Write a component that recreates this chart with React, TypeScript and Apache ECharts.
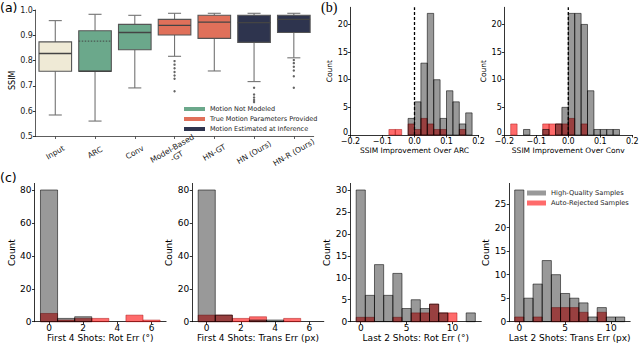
import React, { useEffect, useRef } from "react";
import * as echarts from "echarts";

// ---------- Panel (a): box plot ----------
const boxCategories = ["Input", "ARC", "Conv", "Model-Based\n-GT", "HN-GT", "HN (Ours)", "HN-R (Ours)"];
const boxLow = [0.585, 0.561, 0.692, 0.817, 0.759, 0.717, 0.811];
const boxQ1 = [0.758, 0.758, 0.843, 0.901, 0.888, 0.872, 0.911];
const boxMedian = [0.828, 0.758, 0.911, 0.939, 0.952, 0.95, 0.963];
const boxQ3 = [0.874, 0.918, 0.943, 0.963, 0.979, 0.979, 0.979];
const boxHigh = [0.958, 0.983, 0.979, 0.987, 0.987, 0.987, 0.987];
const boxDotted: (number | null)[] = [null, 0.877, null, null, null, null, null];
const boxGroup = [0, 1, 1, 2, 2, 3, 3];
const groupColors = ["#efeAd6", "#6ba88b", "#e0705a", "#2e344e"];
const boxOutliers: [number, number][] = [
  [3, 0.798], [3, 0.784], [3, 0.77], [3, 0.755], [3, 0.741], [3, 0.728], [3, 0.679],
  [5, 0.693], [5, 0.666], [5, 0.654], [5, 0.644], [5, 0.636],
  [6, 0.802], [6, 0.79], [6, 0.776], [6, 0.761], [6, 0.738], [6, 0.693],
];
const boxTicks = [0.5, 0.6, 0.7, 0.8, 0.9, 1.0];
const legendA = ["Motion Not Modeled", "True Motion Parameters Provided", "Motion Estimated at Inference"];

// ---------- Panel (b): SSIM improvement histograms ----------
const bTicksX = [-0.2, -0.1, 0, 0.1, 0.2];
const bTicksY = [0, 5, 10, 15, 20];
const bYMax = 23.1;
const bBinWidth = 0.02;
const b1GrayEdges = [-0.02, 0, 0.02, 0.04, 0.06, 0.08, 0.1, 0.12, 0.14, 0.16];
const b1GrayCounts = [3, 6, 13, 22, 10, 3, 8, 6, 2, 4];
const b1RedEdges = [-0.08, -0.06, -0.02, 0, 0.02, 0.04, 0.06, 0.08, 0.14];
const b1RedCounts = [1, 1, 2, 1, 3, 2, 1, 1, 1];
const b2GrayEdges = [-0.14, -0.08, -0.04, -0.02, 0, 0.02, 0.04, 0.06, 0.08, 0.1, 0.12, 0.14];
const b2GrayCounts = [1, 1, 2, 5, 22, 22, 20, 8, 1, 1, 1, 1];
const b2RedEdges = [-0.18, -0.08, -0.06, -0.04, -0.02, 0, 0.04];
const b2RedCounts = [2, 2, 2, 2, 2, 3, 2];

// ---------- Panel (c): motion error histograms ----------
const cBinWidth = 1;
const c12TicksX = [0, 2, 4, 6];
const c12TicksY = [0, 20, 40, 60, 80];
const c34TicksX = [0, 5, 10];
const c3TicksY = [0, 5, 10, 15, 20, 25, 30];
const c4TicksY = [0, 5, 10, 15, 20, 25];
const c1GrayBins = [0, 1, 2];
const c1GrayCounts = [80, 2, 3];
const c1RedBins = [0, 1, 2, 3, 5, 6];
const c1RedCounts = [5, 1, 2, 2, 4, 1];
const c2GrayBins = [0, 1, 3, 4];
const c2GrayCounts = [80, 4, 1, 1];
const c2RedBins = [0, 1, 2, 3, 5];
const c2RedCounts = [4, 4, 2, 3, 2];
const c3GrayBins = [0, 1, 2, 3, 4, 5, 6, 7, 8, 9, 12];
const c3GrayCounts = [30, 6, 13, 6, 11, 3, 5, 3, 4, 2, 2];
const c3RedBins = [0, 1, 4, 6, 7, 8, 9, 10];
const c3RedCounts = [1, 1, 1, 2, 2, 4, 2, 2];
const c4GrayBins = [0, 1, 2, 3, 4, 5, 6, 7, 8, 9, 10, 11];
const c4GrayCounts = [28, 5, 8, 13, 10, 6, 5, 4, 1, 3, 1, 1];
const c4RedBins = [0, 2, 4, 5, 6, 7, 9];
const c4RedCounts = [1, 1, 3, 3, 3, 2, 2];
const seriesNames = ["High-Quality Samples", "Auto-Rejected Samples"];

const FONT = "DejaVu Sans";
const GRAY = "rgba(0,0,0,0.4)";
const GRAY_EDGE = "rgba(0,0,0,0.62)";
const RED = "rgba(255,0,0,0.58)";
const RED_EDGE = "rgba(170,20,20,0.55)";

const minusFmt = (v: number) => (v < -1e-9 ? "\u2212" + Math.abs(v).toFixed(1) : Math.abs(v).toFixed(1));

function valueAxis(
  gridIndex: number,
  min: number,
  max: number,
  ticks: number[],
  fmt: (v: number) => string,
  fontSize: number,
  margin: number,
  name: string,
  nameGap: number,
  nameSize: number,
  isY: boolean
): any {
  return {
    type: "value",
    gridIndex,
    min,
    max,
    name,
    nameLocation: "middle",
    nameGap,
    nameTextStyle: { fontSize: nameSize, fontFamily: FONT, color: "#000" },
    axisLine: { show: true, onZero: false, lineStyle: { color: "#000", width: 0.8 } },
    axisTick: { show: true, length: 2.5, customValues: ticks, lineStyle: { color: "#000", width: 0.8 } },
    axisLabel: {
      customValues: ticks,
      formatter: fmt,
      fontSize,
      margin,
      color: "#000",
      fontFamily: FONT,
    },
    splitLine: { show: false },
  };
}

function histSeries(name: string, idx: number, lefts: number[], counts: number[], width: number, fill: string, stroke: string, z: number): any {
  return {
    type: "custom",
    name,
    xAxisIndex: idx,
    yAxisIndex: idx,
    z,
    silent: true,
    itemStyle: { color: fill },
    encode: { x: 0, y: 1 },
    data: lefts.map((l, i) => [l, counts[i]]),
    renderItem: (_p: any, api: any) => {
      const x0 = api.value(0);
      const c = api.value(1);
      const p0 = api.coord([x0, 0]);
      const p1 = api.coord([x0 + width, c]);
      return {
        type: "rect",
        shape: { x: p0[0], y: p1[1], width: p1[0] - p0[0], height: p0[1] - p1[1] },
        style: { fill, stroke, lineWidth: 0.9 },
      };
    },
  };
}

function centered(bins: number[]) {
  return bins.map((b) => b - cBinWidth / 2);
}

function bCountAxis(gridIndex: number, nameGap: number): any {
  const ax = valueAxis(gridIndex, 0, bYMax, bTicksY, (v: number) => (v === 0 ? "{z|0}" : String(Math.round(v))), 8, 2.5, "Count", nameGap, 7.5, true);
  ax.axisLabel.rich = { z: { fontSize: 8, fontFamily: FONT, color: "#000", padding: [0, 0, 6, 0] } };
  return ax;
}

function buildOption(): any {
  const grids = [
    { left: 35.4, top: 10, width: 278.3, height: 126.5 },
    { left: 350.5, top: 7.3, width: 128, height: 127.7 },
    { left: 504.3, top: 7.3, width: 128, height: 127.7 },
    { left: 34.5, top: 183.4, width: 131.6, height: 138.3 },
    { left: 192.2, top: 183.4, width: 131.6, height: 138.3 },
    { left: 350.2, top: 183.4, width: 131.1, height: 138.3 },
    { left: 509.2, top: 183.4, width: 121, height: 138.3 },
  ].map((g) => ({ ...g, containLabel: false, outerBoundsMode: "none" }));

  const intFmt = (v: number) => String(Math.round(v));

  const xAxes: any[] = [
    {
      type: "category",
      gridIndex: 0,
      data: boxCategories,
      axisLine: { show: true, lineStyle: { color: "#333", width: 0.8 } },
      axisTick: { show: true, alignWithLabel: true, length: 2.5, lineStyle: { color: "#333", width: 0.8 } },
      axisLabel: {
        interval: 0,
        rotate: 30,
        align: "center",
        verticalAlign: "middle",
        margin: 16,
        fontSize: 7.7,
        lineHeight: 9,
        color: "#222",
        fontFamily: FONT,
      },
      splitLine: { show: false },
    },
    valueAxis(1, -0.2, 0.2, bTicksX, minusFmt, 8, 2.5, "SSIM Improvement Over ARC", 9, 7.5, false),
    valueAxis(2, -0.2, 0.2, bTicksX, minusFmt, 8, 2.5, "SSIM Improvement Over Conv", 9, 7.5, false),
    valueAxis(3, -0.85, 6.85, c12TicksX, intFmt, 9, 1.5, "First 4 Shots: Rot Err (\u00b0)", 12, 9, false),
    valueAxis(4, -0.85, 6.85, c12TicksX, intFmt, 9, 1.5, "First 4 Shots: Trans Err (px)", 12, 9, false),
    valueAxis(5, -1.15, 13.15, c34TicksX, intFmt, 9, 1.5, "Last 2 Shots: Rot Err (\u00b0)", 12, 9, false),
    valueAxis(6, -1.1, 12.1, c34TicksX, intFmt, 9, 1.5, "Last 2 Shots: Trans Err (px)", 12, 9, false),
  ];

  const yA = valueAxis(0, 0.5, 1.0, boxTicks, (v: number) => v.toFixed(1), 8, 2.5, "SSIM", 18, 8, true);
  yA.axisLine.lineStyle.color = "#333";
  yA.axisLabel.color = "#222";
  yA.nameTextStyle.padding = [0, 14, 0, 0];

  const yAxes: any[] = [
    yA,
    bCountAxis(1, 16),
    bCountAxis(2, 13),
    valueAxis(3, 0, 84, c12TicksY, intFmt, 9, 3, "Count", 16, 9, true),
    valueAxis(4, 0, 84, c12TicksY, intFmt, 9, 3, "Count", 15, 9, true),
    valueAxis(5, 0, 31.5, c3TicksY, intFmt, 9, 3, "Count", 16.5, 9, true),
    valueAxis(6, 0, 29.4, c4TicksY, intFmt, 9, 3, "Count", 16, 9, true),
  ];

  const boxSeries = {
    type: "custom",
    name: "boxes",
    xAxisIndex: 0,
    yAxisIndex: 0,
    silent: true,
    encode: { x: 0, y: [1, 2, 3, 4, 5] },
    data: boxCategories.map((_, i) => [i, boxLow[i], boxQ1[i], boxMedian[i], boxQ3[i], boxHigh[i]]),
    renderItem: (params: any, api: any) => {
      const i = api.value(0);
      const med = api.coord([i, api.value(3)]);
      const x = med[0];
      const bw = api.size([1, 0])[0] * 0.82;
      const cap = bw * 0.4;
      const yLow = api.coord([i, api.value(1)])[1];
      const yQ1 = api.coord([i, api.value(2)])[1];
      const yQ3 = api.coord([i, api.value(4)])[1];
      const yHigh = api.coord([i, api.value(5)])[1];
      const fill = groupColors[boxGroup[params.dataIndex]];
      const edge = "#555";
      const wh = "#737373";
      const children: any[] = [
        { type: "line", shape: { x1: x, y1: yQ3, x2: x, y2: yHigh }, style: { stroke: wh, lineWidth: 1.1 } },
        { type: "line", shape: { x1: x, y1: yQ1, x2: x, y2: yLow }, style: { stroke: wh, lineWidth: 1.1 } },
        { type: "line", shape: { x1: x - cap / 2, y1: yHigh, x2: x + cap / 2, y2: yHigh }, style: { stroke: wh, lineWidth: 1.1 } },
        { type: "line", shape: { x1: x - cap / 2, y1: yLow, x2: x + cap / 2, y2: yLow }, style: { stroke: wh, lineWidth: 1.1 } },
        { type: "rect", shape: { x: x - bw / 2, y: yQ3, width: bw, height: yQ1 - yQ3 }, style: { fill, stroke: edge, lineWidth: 1.1 } },
        { type: "line", shape: { x1: x - bw / 2, y1: med[1], x2: x + bw / 2, y2: med[1] }, style: { stroke: "#444", lineWidth: 1.3 } },
      ];
      const dv = boxDotted[params.dataIndex];
      if (dv !== null) {
        const yd = api.coord([i, dv])[1];
        children.push({
          type: "line",
          shape: { x1: x - bw / 2, y1: yd, x2: x + bw / 2, y2: yd },
          style: { stroke: "#444", lineWidth: 1, lineDash: [1.5, 1.5] },
        });
      }
      return { type: "group", children };
    },
  };

  const outlierSeries = {
    type: "scatter",
    name: "outliers",
    xAxisIndex: 0,
    yAxisIndex: 0,
    silent: true,
    symbol: "circle",
    symbolSize: 2.4,
    itemStyle: { color: "#3d3d3d" },
    data: boxOutliers,
  };

  const legendDummies = legendA.map((n, k) => ({
    type: "bar",
    name: n,
    xAxisIndex: 0,
    yAxisIndex: 0,
    data: [],
    itemStyle: { color: groupColors[k + 1] },
  }));

  const zeroLine = (idx: number) => ({
    type: "line",
    name: "zero" + idx,
    xAxisIndex: idx,
    yAxisIndex: idx,
    silent: true,
    symbol: "none",
    z: 5,
    data: [
      [0, 0],
      [0, bYMax],
    ],
    lineStyle: { color: "#000", width: 1.3, type: [3, 2] },
  });

  const [G, R] = seriesNames;
  const series: any[] = [
    boxSeries,
    outlierSeries,
    ...legendDummies,
    histSeries(R, 1, b1RedEdges, b1RedCounts, bBinWidth, RED, RED_EDGE, 2),
    histSeries(G, 1, b1GrayEdges, b1GrayCounts, bBinWidth, GRAY, GRAY_EDGE, 3),
    zeroLine(1),
    histSeries(R, 2, b2RedEdges, b2RedCounts, bBinWidth, RED, RED_EDGE, 2),
    histSeries(G, 2, b2GrayEdges, b2GrayCounts, bBinWidth, GRAY, GRAY_EDGE, 3),
    zeroLine(2),
    histSeries(R, 3, centered(c1RedBins), c1RedCounts, cBinWidth, RED, RED_EDGE, 2),
    histSeries(G, 3, centered(c1GrayBins), c1GrayCounts, cBinWidth, GRAY, GRAY_EDGE, 3),
    histSeries(R, 4, centered(c2RedBins), c2RedCounts, cBinWidth, RED, RED_EDGE, 2),
    histSeries(G, 4, centered(c2GrayBins), c2GrayCounts, cBinWidth, GRAY, GRAY_EDGE, 3),
    histSeries(R, 5, centered(c3RedBins), c3RedCounts, cBinWidth, RED, RED_EDGE, 2),
    histSeries(G, 5, centered(c3GrayBins), c3GrayCounts, cBinWidth, GRAY, GRAY_EDGE, 3),
    histSeries(R, 6, centered(c4RedBins), c4RedCounts, cBinWidth, RED, RED_EDGE, 2),
    histSeries(G, 6, centered(c4GrayBins), c4GrayCounts, cBinWidth, GRAY, GRAY_EDGE, 3),
  ];

  return {
    animation: false,
    backgroundColor: "#ffffff",
    textStyle: { fontFamily: FONT },
    grid: grids,
    xAxis: xAxes,
    yAxis: yAxes,
    legend: [
      {
        data: legendA,
        left: 184,
        top: 105,
        orient: "vertical",
        icon: "rect",
        itemWidth: 21,
        itemHeight: 4,
        itemGap: 2,
        padding: 0,
        selectedMode: false,
        textStyle: { fontSize: 6.5, lineHeight: 8, color: "#222", fontFamily: FONT },
      },
      {
        data: seriesNames,
        left: 527,
        top: 189,
        orient: "vertical",
        icon: "rect",
        itemWidth: 19,
        itemHeight: 5,
        itemGap: 2,
        padding: 0,
        selectedMode: false,
        textStyle: { fontSize: 6.7, lineHeight: 8, color: "#222", fontFamily: FONT },
      },
    ],
    graphic: [
      { type: "text", left: 0, top: 1, style: { text: "(a)", fontSize: 12.5, fontFamily: FONT, fill: "#000" } },
      { type: "text", left: 321, top: 0, style: { text: "(b)", fontSize: 14, fontFamily: "Liberation Serif", fill: "#000" } },
      { type: "text", left: 0, top: 171, style: { text: "(c)", fontSize: 12.5, fontFamily: FONT, fill: "#000" } },
    ],
    series,
  };
}

export default function App() {
  const ref = useRef<HTMLDivElement>(null);
  useEffect(() => {
    if (!ref.current) return;
    const chart = echarts.init(ref.current, null, { renderer: "svg" });
    chart.setOption(buildOption());
    return () => chart.dispose();
  }, []);
  return (
    <div
      ref={ref}
      style={{ position: "fixed", left: 0, top: 0, width: 640, height: 345, background: "#fff" }}
    />
  );
}
